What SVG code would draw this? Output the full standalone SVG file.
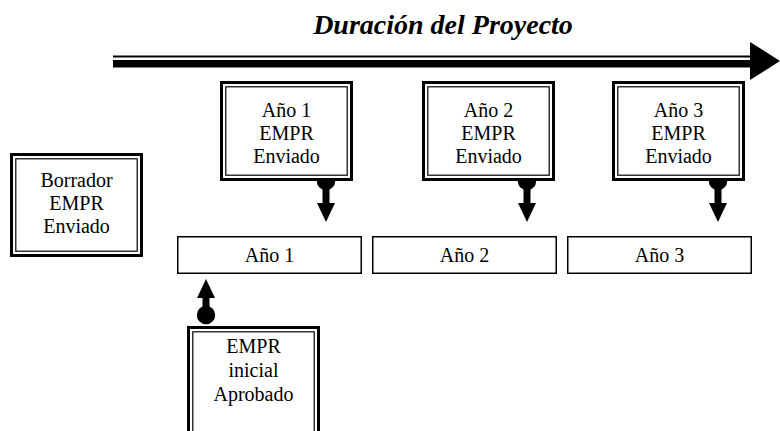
<svg xmlns="http://www.w3.org/2000/svg" width="780" height="431" viewBox="0 0 780 431">
<style>
text{font-family:"Liberation Serif","Times New Roman",serif;font-size:20px;fill:#000;text-anchor:middle}
.title{font-size:28px;font-weight:bold;font-style:italic}
.outer{fill:#fff;stroke:#000;stroke-width:3}
.inner{fill:none;stroke:#000;stroke-width:1.2}
.year{fill:#fff;stroke:#000;stroke-width:1.5}
.conn{stroke:#000;stroke-width:7;fill:none}
</style>
<defs>
<marker id="arrow" markerUnits="userSpaceOnUse" markerWidth="20" markerHeight="20" viewBox="0 0 20 20" refX="0" refY="10" orient="auto"><path d="M0,1 L19,10 L0,19 Z" fill="#000"/></marker>
<marker id="ball" markerUnits="userSpaceOnUse" markerWidth="20" markerHeight="20" viewBox="0 0 20 20" refX="10" refY="10" orient="auto"><circle cx="10" cy="10" r="9.2" fill="#000"/></marker>
</defs>
<rect width="780" height="431" fill="#fff"/>
<g id="timeline">
<text class="title" x="443" y="34">Duración del Proyecto</text>
<rect x="113" y="55.5" width="640" height="2" fill="#000"/>
<rect x="113" y="60" width="640" height="7.5" fill="#000"/>
<polygon points="750,42 780,61 750,80" fill="#000"/>
</g>
<g id="connectors">
<line class="conn" x1="326" y1="181" x2="326" y2="203" marker-start="url(#ball)" marker-end="url(#arrow)"/>
<line class="conn" x1="527" y1="181" x2="527" y2="203" marker-start="url(#ball)" marker-end="url(#arrow)"/>
<line class="conn" x1="718" y1="181" x2="718" y2="203" marker-start="url(#ball)" marker-end="url(#arrow)"/>
<line class="conn" x1="206" y1="315" x2="206" y2="298" marker-start="url(#ball)" marker-end="url(#arrow)"/>
</g>
<g id="borrador">
<rect class="outer" x="11.5" y="154.5" width="130" height="101"/>
<rect class="inner" x="15.8" y="158.8" width="121.4" height="92.4"/>
<text x="76.5" y="187">Borrador</text>
<text x="76.5" y="210">EMPR</text>
<text x="76.5" y="233">Enviado</text>
</g>
<g id="envio1">
<rect class="outer" x="221.5" y="82.5" width="130" height="97"/>
<rect class="inner" x="225.8" y="86.8" width="121.4" height="88.4"/>
<text x="286.5" y="117">Año 1</text>
<text x="286.5" y="140">EMPR</text>
<text x="286.5" y="163">Enviado</text>
</g>
<g id="envio2">
<rect class="outer" x="423.5" y="82.5" width="130" height="97"/>
<rect class="inner" x="427.8" y="86.8" width="121.4" height="88.4"/>
<text x="488.5" y="117">Año 2</text>
<text x="488.5" y="140">EMPR</text>
<text x="488.5" y="163">Enviado</text>
</g>
<g id="envio3">
<rect class="outer" x="613.5" y="82.5" width="130" height="97"/>
<rect class="inner" x="617.8" y="86.8" width="121.4" height="88.4"/>
<text x="678.5" y="117">Año 3</text>
<text x="678.5" y="140">EMPR</text>
<text x="678.5" y="163">Enviado</text>
</g>
<g id="ano1">
<rect class="year" x="177.75" y="236.75" width="183.5" height="36.5"/>
<text x="269.5" y="262">Año 1</text>
</g>
<g id="ano2">
<rect class="year" x="372.75" y="236.75" width="183.5" height="36.5"/>
<text x="464.5" y="262">Año 2</text>
</g>
<g id="ano3">
<rect class="year" x="567.75" y="236.75" width="183.5" height="36.5"/>
<text x="659.5" y="262">Año 3</text>
</g>
<g id="inicial">
<rect class="outer" x="188.5" y="327.5" width="130" height="110"/>
<rect class="inner" x="192.8" y="331.8" width="121.4" height="110"/>
<text x="253.5" y="353">EMPR</text>
<text x="253.5" y="377">inicial</text>
<text x="253.5" y="401">Aprobado</text>
</g>
</svg>
